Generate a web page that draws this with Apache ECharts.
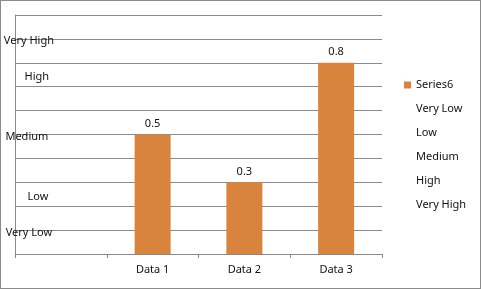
<!DOCTYPE html>
<html><head><meta charset="utf-8">
<script src="https://cdn.jsdelivr.net/npm/echarts@6/dist/echarts.min.js"></script>
<style>html,body{margin:0;padding:0;background:#fff}#c{width:481px;height:289px;box-sizing:border-box;border:1px solid #8a8a8a}</style>
</head><body><div id="c"></div>
<script>
const categories = ['', 'Data 1', 'Data 2', 'Data 3'];
const barName = 'Series6';
const barValues = [null, 0.5, 0.3, 0.8];
const levelNames = ['Very Low', 'Low', 'Medium', 'High', 'Very High'];
const levelValues = [0.09, 0.24, 0.49, 0.74, 0.89];
const levelOffsets = [-32, -23, -34, -24, -32];

const font = '"Noto Sans", "DejaVu Sans", sans-serif';
const chart = echarts.init(document.getElementById('c'), null, {renderer: 'canvas'});
const levelSeries = levelNames.map((n, i) => ({
  name: n, type: 'scatter', symbol: 'circle', symbolSize: 1, z: 5,
  itemStyle: {color: '#ffffff', opacity: 0},
  data: [[0, levelValues[i]]],
  label: {show: true, formatter: n, position: 'inside', offset: [levelOffsets[i], 0],
          color: '#111111', fontSize: 11, fontFamily: font, textBorderWidth: 0, opacity: 1}
}));
chart.setOption({
  animation: false,
  grid: {left: 14, top: 14, right: 98, bottom: 34, containLabel: false},
  legend: {
    orient: 'vertical', left: 403, top: 77, padding: 0, itemWidth: 7, itemHeight: 7, itemGap: 10,
    textStyle: {fontSize: 11, fontFamily: font, color: '#111111', lineHeight: 14},
    data: [{name: barName, icon: 'rect'}].concat(levelNames.map(n => ({name: n, icon: 'none'})))
  },
  xAxis: {
    type: 'category', data: categories, boundaryGap: true,
    axisLine: {lineStyle: {color: '#8a8a8a'}},
    axisTick: {show: true, length: 4, lineStyle: {color: '#8a8a8a'}},
    axisLabel: {color: '#111111', fontSize: 11, fontFamily: font, margin: 10}
  },
  yAxis: {
    type: 'value', min: 0, max: 1, interval: 0.1,
    axisLine: {show: true, lineStyle: {color: '#8a8a8a'}},
    axisTick: {show: false}, axisLabel: {show: false},
    splitLine: {lineStyle: {color: '#8a8a8a'}}
  },
  series: [{
    name: barName, type: 'bar', data: barValues, barWidth: 36,
    itemStyle: {color: '#D9843C'},
    label: {show: true, position: 'top', distance: 5, color: '#111111', fontSize: 11, fontFamily: font}
  }].concat(levelSeries)
});
</script></body></html>
